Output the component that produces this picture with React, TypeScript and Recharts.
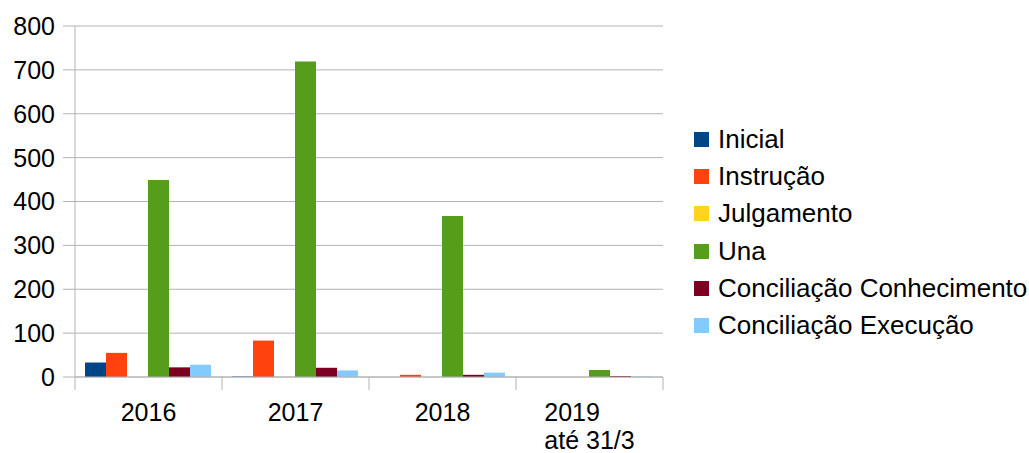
import React from 'react';
import { BarChart, Bar, XAxis, YAxis, CartesianGrid, Legend } from 'recharts';

const categories = ['2016', '2017', '2018', '2019\naté 31/3'];
const inicial = [33, 1, 0, 0];
const instrucao = [55, 83, 5, 0];
const julgamento = [0, 0, 0, 0];
const una = [449, 719, 367, 16];
const concConhecimento = [22, 21, 5, 2];
const concExecucao = [28, 15, 10, 1];
const yTicks = [0, 100, 200, 300, 400, 500, 600, 700, 800];

const series = [
  { key: 'inicial', name: 'Inicial', color: '#004586', values: inicial },
  { key: 'instrucao', name: 'Instrução', color: '#ff420e', values: instrucao },
  { key: 'julgamento', name: 'Julgamento', color: '#ffd320', values: julgamento },
  { key: 'una', name: 'Una', color: '#579d1c', values: una },
  { key: 'concConhecimento', name: 'Conciliação Conhecimento', color: '#7e0021', values: concConhecimento },
  { key: 'concExecucao', name: 'Conciliação Execução', color: '#83caff', values: concExecucao },
];

const data = categories.map((cat, i) => {
  const row: Record<string, string | number> = { cat };
  series.forEach((s) => {
    row[s.key] = s.values[i];
  });
  return row;
});

const FONT = '"Liberation Sans", Arial, sans-serif';
const GRID = '#b3b3b3';
const TICK_FONT = 25;

// rough Liberation Sans advance widths (em) for left-aligning multi-line labels
const textWidth = (s: string) =>
  [...s].reduce((w, c) => w + (c === ' ' || c === '/' || c === 't' ? 0.278 : 0.556), 0) * TICK_FONT;

const CategoryTick = (props: any) => {
  const { x, y, payload, index } = props;
  const half = payload?.offset || 73.5;
  const lines = String(payload.value).split('\n');
  const multi = lines.length > 1;
  const left = x - Math.max(...lines.map(textWidth)) / 2;
  return (
    <g>
      <line x1={x - half} y1={y} x2={x - half} y2={y + 13} stroke={GRID} />
      {index === categories.length - 1 && (
        <line x1={x + half} y1={y} x2={x + half} y2={y + 13} stroke={GRID} />
      )}
      <text
        x={multi ? left : x}
        y={y + 44}
        textAnchor={multi ? 'start' : 'middle'}
        fontSize={TICK_FONT}
        fontFamily={FONT}
        fill="#000"
      >
        {lines.map((l, i) => (
          <tspan key={i} x={multi ? left : x} dy={i === 0 ? 0 : 28}>
            {l}
          </tspan>
        ))}
      </text>
    </g>
  );
};

const LegendContent = () => (
  <div style={{ fontFamily: FONT, fontSize: 26, color: '#000' }}>
    {series.map((s) => (
      <div key={s.key} style={{ display: 'flex', alignItems: 'center', height: 37.2, whiteSpace: 'nowrap' }}>
        <span style={{ width: 15, height: 15, background: s.color, marginLeft: 2, marginRight: 9, display: 'inline-block' }} />
        <span>{s.name}</span>
      </div>
    ))}
  </div>
);

export default function App() {
  return (
    <div style={{ position: 'absolute', left: 0, top: 0, width: 1029, height: 453, background: '#fff' }}>
      <BarChart
        width={1029}
        height={453}
        data={data}
        margin={{ top: 26, right: 366, bottom: 0, left: 0 }}
        barCategoryGap={10}
        barGap={0}
      >
        <CartesianGrid yAxisId="l" vertical={false} stroke={GRID} />
        <XAxis
          dataKey="cat"
          height={76}
          interval={0}
          tickLine={false}
          tickSize={0}
          tickMargin={0}
          axisLine={{ stroke: GRID }}
          tick={<CategoryTick />}
        />
        <YAxis
          yAxisId="l"
          width={75}
          domain={[0, 800]}
          ticks={yTicks}
          interval={0}
          tickSize={12}
          tickMargin={8}
          tickLine={{ stroke: GRID }}
          axisLine={{ stroke: GRID }}
          tick={{ fontSize: TICK_FONT, fontFamily: FONT, fill: '#000' }}
        />
        <YAxis
          yAxisId="r"
          orientation="right"
          width={0}
          domain={[0, 800]}
          tick={false}
          tickLine={false}
          axisLine={{ stroke: GRID }}
        />
        {series.map((s) => (
          <Bar key={s.key} yAxisId="l" dataKey={s.key} name={s.name} fill={s.color} isAnimationActive={false} />
        ))}
        <Legend
          layout="vertical"
          align="center"
          verticalAlign="middle"
          content={<LegendContent />}
          wrapperStyle={{ left: 692, top: 121, width: 337 }}
        />
      </BarChart>
    </div>
  );
}
